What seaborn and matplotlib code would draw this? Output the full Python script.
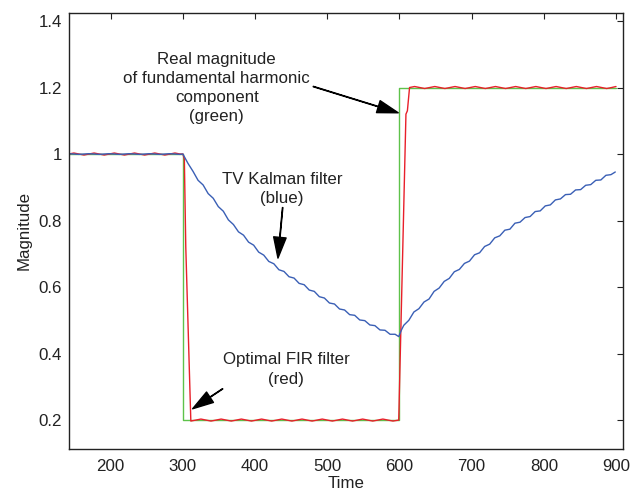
import matplotlib
matplotlib.use("Agg")
import matplotlib.pyplot as plt
import seaborn as sns
import pandas as pd

# ---------------- data ----------------
green_t = [142, 300, 300, 600, 600, 900]
green_y = [1.0, 1.0, 0.2, 0.2, 1.2, 1.2]

red_t = [142, 149, 156, 163, 170, 177, 184, 191, 198, 205, 212, 219, 226, 233, 240, 247,
         254, 261, 268, 275, 282, 289, 296,
         300, 302, 304, 311,
         318, 325, 332, 339, 346, 353, 360, 367, 374, 381, 388, 395, 402, 409, 416, 423,
         430, 437, 444, 451, 458, 465, 472, 479, 486, 493, 500, 507, 514, 521, 528, 535,
         542, 549, 556, 563, 570, 577, 584, 591, 599,
         609, 611, 614,
         621, 628, 635, 642, 649, 656, 663, 670, 677, 684, 691, 698, 705, 712, 719, 726,
         733, 740, 747, 754, 761, 768, 775, 782, 789, 796, 803, 810, 817, 824, 831, 838,
         845, 852, 859, 866, 873, 880, 887, 894, 900]
red_y = [1.0, 1.003, 1.0, 0.997, 1.0, 1.003, 1.0, 0.997, 1.0, 1.003, 1.0, 0.997, 1.0, 1.003,
         1.0, 0.997, 1.0, 1.003, 1.0, 0.997, 1.0, 1.003, 1.0,
         1.0, 0.985, 0.72, 0.197,
         0.2, 0.203, 0.2, 0.197, 0.2, 0.203, 0.2, 0.197, 0.2, 0.203, 0.2, 0.197,
         0.2, 0.203, 0.2, 0.197, 0.2, 0.203, 0.2, 0.197,
         0.2, 0.203, 0.2, 0.197, 0.2, 0.203, 0.2, 0.197, 0.2, 0.203, 0.2, 0.197,
         0.2, 0.203, 0.2, 0.197, 0.2, 0.203, 0.2, 0.197,
         0.2,
         1.12, 1.13, 1.2,
         1.203, 1.2, 1.197, 1.2, 1.203, 1.2, 1.197, 1.2, 1.203, 1.2, 1.197, 1.2,
         1.203, 1.2, 1.197, 1.2, 1.203, 1.2, 1.197, 1.2,
         1.203, 1.2, 1.197, 1.2, 1.203, 1.2, 1.197, 1.2, 1.203, 1.2, 1.197, 1.2,
         1.203, 1.2, 1.197, 1.2, 1.203, 1.2, 1.197, 1.2,
         1.203]

blue_t = [142, 156, 170, 184, 198, 212, 226, 240, 254, 268, 282, 296, 300,
          307, 314, 321, 328, 335, 342, 349, 356, 363, 370, 377, 384, 391, 398,
          405, 412, 419, 426, 433, 440, 447, 454, 461, 468, 475, 482, 489, 496,
          503, 510, 517, 524, 531, 538, 545, 552, 559, 566, 573, 580, 587, 594, 599,
          603, 606, 613, 620, 627, 634, 641, 648, 655, 662, 669, 676, 683, 690,
          697, 704, 711, 718, 725, 732, 739, 746, 753, 760, 767, 774, 781, 788,
          795, 802, 809, 816, 823, 830, 837, 844, 851, 858, 865, 872, 879, 886,
          893, 899]
blue_y = [1.001, 0.999, 1.001, 0.999, 1.001, 0.999, 1.001, 0.999, 1.001, 0.999, 1.001, 0.999, 1.0,
          0.972, 0.948, 0.921, 0.907, 0.881, 0.867, 0.842, 0.828, 0.802, 0.788, 0.766, 0.756,
          0.735, 0.726, 0.705, 0.696, 0.677, 0.670, 0.652, 0.647, 0.631, 0.627, 0.611, 0.607,
          0.591, 0.587, 0.571, 0.567, 0.552, 0.549, 0.534, 0.531, 0.517, 0.515, 0.501, 0.499,
          0.486, 0.484, 0.471, 0.470, 0.458, 0.458, 0.451,
          0.472, 0.485, 0.500, 0.525, 0.535, 0.555, 0.564, 0.587, 0.597, 0.617, 0.626, 0.646,
          0.653, 0.671, 0.678, 0.697, 0.703, 0.722, 0.729, 0.748, 0.754, 0.771, 0.774, 0.792,
          0.795, 0.809, 0.812, 0.827, 0.829, 0.844, 0.847, 0.862, 0.865, 0.878, 0.879, 0.892,
          0.893, 0.906, 0.908, 0.921, 0.922, 0.936, 0.938, 0.946]

x_ticks = [200, 300, 400, 500, 600, 700, 800, 900]
y_ticks = [0.2, 0.4, 0.6, 0.8, 1.0, 1.2, 1.4]
y_tick_labels = ["0.2", "0.4", "0.6", "0.8", "1", "1.2", "1.4"]

# ---------------- style ----------------
sns.set_style("white")
plt.rcParams["font.family"] = ["Liberation Sans", "DejaVu Sans"]
plt.rcParams["xtick.direction"] = "in"
plt.rcParams["ytick.direction"] = "in"

TXT = "#222222"
FS = 12.2

fig = plt.figure(figsize=(6.3, 4.94), dpi=100)
ax = fig.add_axes([0.1095, 0.0911, 0.8794, 0.8832])

df_g = pd.DataFrame({"Time": green_t, "Magnitude": green_y})
df_r = pd.DataFrame({"Time": red_t, "Magnitude": red_y})
df_b = pd.DataFrame({"Time": blue_t, "Magnitude": blue_y})

sns.lineplot(data=df_g, x="Time", y="Magnitude", color="#5ec24a", lw=1.0,
             estimator=None, sort=False, ax=ax)
sns.lineplot(data=df_r, x="Time", y="Magnitude", color="#e8202a", lw=1.0,
             estimator=None, sort=False, ax=ax)
sns.lineplot(data=df_b, x="Time", y="Magnitude", color="#3a5fb5", lw=1.0,
             estimator=None, sort=False, ax=ax)

ax.set_xlim(142.2, 909.7)
ax.set_ylim(0.113, 1.425)
ax.set_xticks(x_ticks)
ax.set_yticks(y_ticks)
ax.set_yticklabels(y_tick_labels)
ax.tick_params(axis="both", which="both", direction="in", length=4.5, width=0.8,
               top=True, right=True, labelsize=FS, colors=TXT)
ax.tick_params(axis="x", pad=7)
ax.tick_params(axis="y", pad=5)
for s in ax.spines.values():
    s.set_visible(True)
    s.set_color(TXT)
    s.set_linewidth(1.0)

ax.set_xlabel("Time", fontsize=FS, labelpad=1.5, color=TXT)
ax.set_ylabel("Magnitude", fontsize=FS, labelpad=5, color=TXT)

arrow_kw = dict(facecolor="black", edgecolor="black", width=0.3, headwidth=9,
                headlength=15, shrink=0.0)

ax.text(346.8, 1.198, "Real magnitude\nof fundamental harmonic\ncomponent\n(green)",
        ha="center", va="center", fontsize=FS, color=TXT,
        multialignment="center", linespacing=1.34)
ax.annotate("", xy=(598.3, 1.124), xytext=(480.6, 1.203), arrowprops=arrow_kw)

ax.text(437.5, 0.896, "TV Kalman filter\n(blue)", ha="center", va="center",
        fontsize=FS, color=TXT, multialignment="center", linespacing=1.32)
ax.annotate("", xy=(431.7, 0.687), xytext=(438.2, 0.839), arrowprops=arrow_kw)

ax.text(443.2, 0.3525, "Optimal FIR filter\n(red)", ha="center", va="center",
        fontsize=FS, color=TXT, multialignment="center", linespacing=1.36)
ax.annotate("", xy=(313.5, 0.234), xytext=(355.1, 0.294), arrowprops=arrow_kw)

fig.savefig("out.png", dpi=100)
